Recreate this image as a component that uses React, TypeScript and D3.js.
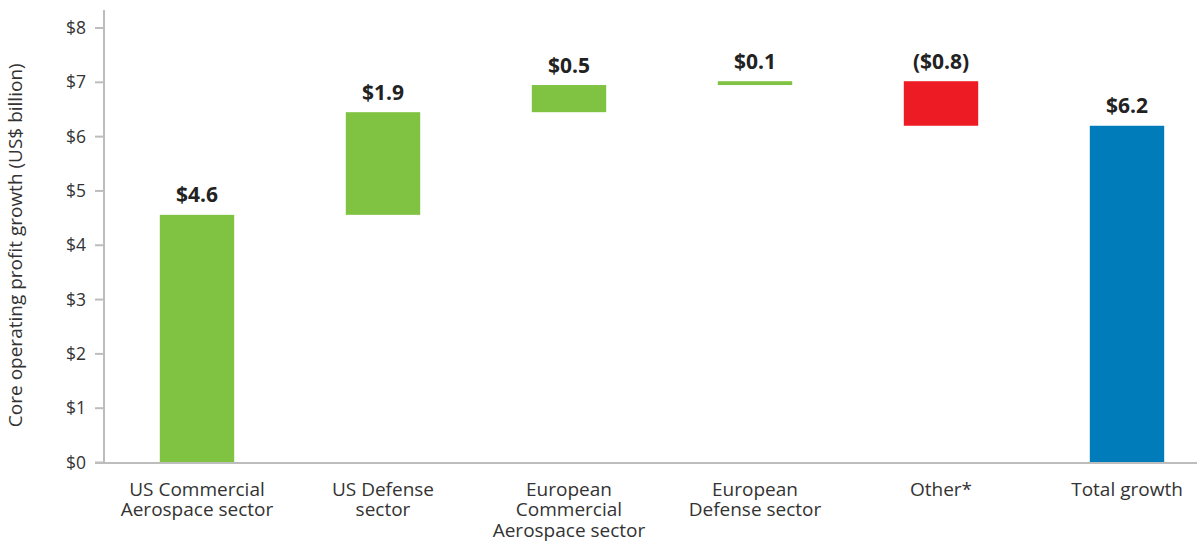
import React from "react";
import * as d3 from "d3";

const categories: string[][] = [
  ["US Commercial", "Aerospace sector"],
  ["US Defense", "sector"],
  ["European", "Commercial", "Aerospace sector"],
  ["European", "Defense sector"],
  ["Other*"],
  ["Total growth"],
];
const deltas: number[] = [4.56, 1.89, 0.5, 0.07, -0.82];
const totalValue = 6.2;
const valueLabels: string[] = ["$4.6", "$1.9", "$0.5", "$0.1", "($0.8)", "$6.2"];
const yTicks: number[] = [0, 1, 2, 3, 4, 5, 6, 7, 8];

const W = 1197;
const H = 542;
const FONT = "'Open Sans', 'Noto Sans', sans-serif";

export default function App() {
  const keys = categories.map((c) => c.join(" "));
  const x = d3
    .scaleBand<string>()
    .domain(keys)
    .range([104, 1220])
    .paddingInner(0.6)
    .paddingOuter(0.3);
  const y = d3.scaleLinear().domain([0, 8]).range([462.5, 28]);

  type Bar = { key: string; y0: number; y1: number; color: string; label: string };
  const bars: Bar[] = [];
  let cum = 0;
  deltas.forEach((d, i) => {
    const start = cum;
    cum += d;
    bars.push({
      key: keys[i],
      y0: Math.min(start, cum),
      y1: Math.max(start, cum),
      color: d >= 0 ? "#80C242" : "#ED1C24",
      label: valueLabels[i],
    });
  });
  bars.push({ key: keys[5], y0: 0, y1: totalValue, color: "#007CBA", label: valueLabels[5] });

  return (
    <svg
      width={W}
      height={H}
      style={{ position: "absolute", left: 0, top: 0, background: "#fff" }}
      fontFamily={FONT}
    >
      {/* bars */}
      {bars.map((b) => (
        <g key={b.key}>
          <rect
            x={x(b.key)!}
            width={x.bandwidth()}
            y={y(b.y1)}
            height={Math.max(1, y(b.y0) - y(b.y1))}
            fill={b.color}
          />
          <text
            x={x(b.key)! + x.bandwidth() / 2}
            y={y(b.y1) - 12.5}
            textAnchor="middle"
            fontSize={21}
            fontWeight={700}
            fill="#222"
          >
            {b.label}
          </text>
        </g>
      ))}

      {/* y axis */}
      <line x1={104} x2={104} y1={10} y2={463} stroke="#BDBDBD" strokeWidth={2} />
      {yTicks.map((t) => (
        <g key={t}>
          <line x1={95} x2={104} y1={y(t)} y2={y(t)} stroke="#BDBDBD" strokeWidth={2} />
          <text x={86} y={y(t)} dy="0.35em" textAnchor="end" fontSize={17.5} fill="#333">
            ${t}
          </text>
        </g>
      ))}
      <text
        transform={`translate(22,${(y(0) + y(8)) / 2}) rotate(-90)`}
        textAnchor="middle"
        fontSize={19}
        fill="#333"
      >
        Core operating profit growth (US$ billion)
      </text>

      {/* x axis */}
      <line x1={95} x2={W} y1={463} y2={463} stroke="#BDBDBD" strokeWidth={2} />
      {categories.map((lines, i) => (
        <text
          key={keys[i]}
          x={x(keys[i])! + x.bandwidth() / 2}
          y={495.5}
          textAnchor="middle"
          fontSize={19}
          fill="#333"
        >
          {lines.map((l, j) => (
            <tspan key={j} x={x(keys[i])! + x.bandwidth() / 2} dy={j === 0 ? 0 : 20.5}>
              {l}
            </tspan>
          ))}
        </text>
      ))}
    </svg>
  );
}
